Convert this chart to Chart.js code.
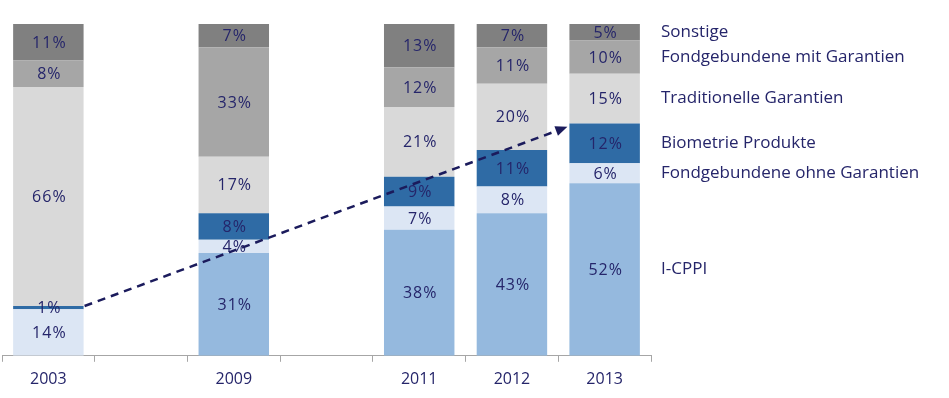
<!DOCTYPE html>
<html>
<head>
<meta charset="utf-8">
<script src="https://cdn.jsdelivr.net/npm/chart.js@4"></script>
<style>
  html, body { margin: 0; padding: 0; background: #fff; }
  #wrap { width: 949px; height: 398px; position: relative; }
</style>
</head>
<body>
<div id="wrap"><canvas id="c"></canvas></div>
<script>
// categories (empty slots keep the uneven spacing of the original)
const years = ['2003', '', '2009', '', '2011', '2012', '2013'];

// shares in %, bottom to top
const iCppi        = [0,  null, 31, null, 38, 43, 52];
const fondOhne     = [14, null, 4,  null, 7,  8,  6];
const biometrie    = [1,  null, 8,  null, 9,  11, 12];
const traditionell = [66, null, 17, null, 21, 20, 15];
const fondMit      = [8,  null, 33, null, 12, 11, 10];
const sonstige     = [11, null, 7,  null, 13, 7,  5];

// dashed trend arrow: [category index, stacked value]
const arrowFrom = [0, 15];
const arrowTo   = [6, 69];

const navy = '#25256a';
const font = '"Open Sans", "Noto Sans", sans-serif';

const series = [
  { label: 'I-CPPI', data: iCppi, backgroundColor: '#95b9de' },
  { label: 'Fondgebundene ohne Garantien', data: fondOhne, backgroundColor: '#dce6f4' },
  { label: 'Biometrie Produkte', data: biometrie, backgroundColor: '#2f6ba5' },
  { label: 'Traditionelle Garantien', data: traditionell, backgroundColor: '#d9d9d9' },
  { label: 'Fondgebundene mit Garantien', data: fondMit, backgroundColor: '#a6a6a6' },
  { label: 'Sonstige', data: sonstige, backgroundColor: '#808080' }
];

const segLabels = {
  id: 'segLabels',
  afterDatasetsDraw(chart) {
    const ctx = chart.ctx;
    ctx.save();
    ctx.font = '16px ' + font;
    ctx.letterSpacing = '1px';
    ctx.fillStyle = navy;
    ctx.textAlign = 'center';
    ctx.textBaseline = 'middle';
    chart.data.datasets.forEach((ds, i) => {
      chart.getDatasetMeta(i).data.forEach((bar, j) => {
        const v = ds.data[j];
        if (!v) return;
        ctx.fillText(v + '%', bar.x + 1, (bar.y + bar.base) / 2 + 1);
      });
    });
    ctx.restore();
  }
};

const sideLegend = {
  id: 'sideLegend',
  afterDraw(chart) {
    const ctx = chart.ctx;
    const last = years.length - 1;
    ctx.save();
    ctx.font = '17px ' + font;
    ctx.fillStyle = navy;
    ctx.textAlign = 'left';
    ctx.textBaseline = 'middle';
    chart.data.datasets.forEach((ds, i) => {
      const bar = chart.getDatasetMeta(i).data[last];
      ctx.fillText(ds.label, chart.chartArea.right + 10, (bar.y + bar.base) / 2);
    });
    ctx.restore();
  }
};

const trendArrow = {
  id: 'trendArrow',
  afterDatasetsDraw(chart) {
    const ctx = chart.ctx;
    const x = chart.scales.x, y = chart.scales.y;
    const b0 = chart.getDatasetMeta(0).data[arrowFrom[0]];
    const b1 = chart.getDatasetMeta(0).data[arrowTo[0]];
    const x0 = x.getPixelForValue(arrowFrom[0]) + b0.width / 2 + 1;
    const y0 = y.getPixelForValue(arrowFrom[1]);
    const x1 = x.getPixelForValue(arrowTo[0]) - b1.width / 2 - 2;
    const y1 = y.getPixelForValue(arrowTo[1]);
    const ang = Math.atan2(y1 - y0, x1 - x0);
    const head = 13;
    ctx.save();
    ctx.strokeStyle = '#1b1b5c';
    ctx.fillStyle = '#1b1b5c';
    ctx.lineWidth = 2.5;
    ctx.setLineDash([8, 6]);
    ctx.beginPath();
    ctx.moveTo(x0, y0);
    ctx.lineTo(x1 - head * Math.cos(ang), y1 - head * Math.sin(ang));
    ctx.stroke();
    ctx.setLineDash([]);
    ctx.beginPath();
    ctx.moveTo(x1, y1);
    ctx.lineTo(x1 - head * Math.cos(ang - 0.4), y1 - head * Math.sin(ang - 0.4));
    ctx.lineTo(x1 - head * Math.cos(ang + 0.4), y1 - head * Math.sin(ang + 0.4));
    ctx.closePath();
    ctx.fill();
    ctx.restore();
  }
};

new Chart(document.getElementById('c'), {
  type: 'bar',
  data: { labels: years, datasets: series },
  plugins: [segLabels, trendArrow, sideLegend],
  options: {
    responsive: true,
    maintainAspectRatio: false,
    animation: false,
    layout: { padding: { top: 24, left: 2, right: 298, bottom: 1 } },
    datasets: { bar: { categoryPercentage: 1, barPercentage: 0.76, borderWidth: 0 } },
    plugins: { legend: { display: false }, tooltip: { enabled: false } },
    scales: {
      x: {
        stacked: true,
        offset: true,
        border: { color: '#a6a6a6', width: 1 },
        grid: { offset: true, drawOnChartArea: false, drawTicks: true, tickLength: 6, color: '#a6a6a6' },
        ticks: { color: navy, font: { family: font, size: 16 }, padding: 8 }
      },
      y: { stacked: true, display: false, min: 0, max: 100 }
    }
  }
});
</script>
</body>
</html>
